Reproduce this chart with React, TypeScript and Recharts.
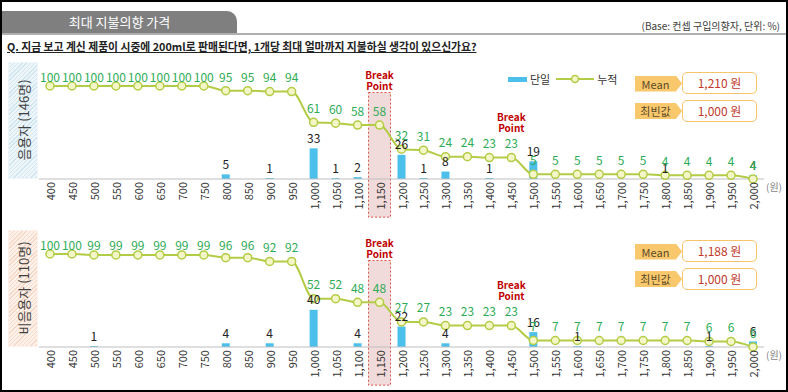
import {
  Bar,
  ComposedChart,
  LabelList,
  Line,
  ReferenceArea,
  XAxis,
  YAxis,
} from "recharts";

const prices = [
  "400", "450", "500", "550", "600", "650", "700", "750", "800", "850",
  "900", "950", "1,000", "1,050", "1,100", "1,150", "1,200", "1,250", "1,300", "1,350",
  "1,400", "1,450", "1,500", "1,550", "1,600", "1,650", "1,700", "1,750", "1,800", "1,850",
  "1,900", "1,950", "2,000",
];

// 음용자 (146명)
const userSingle = [
  null, null, null, null, null, null, null, null, 5, null,
  1, null, 33, 1, 2, null, 26, 1, 8, null,
  1, null, 19, null, null, null, null, null, 1, null,
  null, null, 4,
];
const userCum = [
  100, 100, 100, 100, 100, 100, 100, 100, 95, 95,
  94, 94, 61, 60, 58, 58, 32, 31, 24, 24,
  23, 23, 5, 5, 5, 5, 5, 5, 4, 4,
  4, 4, 4,
];
// the drawn line drops to the axis at the last price
const userCumLine = [
  100, 100, 100, 100, 100, 100, 100, 100, 95, 95,
  94, 94, 61, 60, 58, 58, 32, 31, 24, 24,
  23, 23, 5, 5, 5, 5, 5, 5, 4, 4,
  4, 4, 0,
];

// 비음용자 (110명)
const nonUserSingle = [
  null, null, 1, null, null, null, null, null, 4, null,
  4, null, 40, 0, 4, null, 22, 0, 4, null,
  0, null, 16, null, 1, null, null, null, 0, null,
  1, null, 6,
];
const nonUserCum = [
  100, 100, 99, 99, 99, 99, 99, 99, 96, 96,
  92, 92, 52, 52, 48, 48, 27, 27, 23, 23,
  23, 23, 7, 7, 7, 7, 7, 7, 7, 7,
  6, 6, 6,
];
const nonUserCumLine = [
  100, 100, 99, 99, 99, 99, 99, 99, 96, 96,
  92, 92, 52, 52, 48, 48, 27, 27, 23, 23,
  23, 23, 7, 7, 7, 7, 7, 7, 7, 7,
  6, 6, 0,
];

const breakArea = "1,150";
const breakMark = "1,450";

const BAR = "#4cbfeb";
const LINE = "#b3cc45";
const GREEN = "#2eac55";
const RED = "#c00000";
const FONT = "'Noto Sans CJK KR', 'Noto Sans', sans-serif";

function PriceTick(props: any) {
  const { x, y, payload } = props;
  return (
    <text
      x={x}
      y={y}
      transform={`rotate(-90 ${x} ${y})`}
      textAnchor="end"
      dominantBaseline="central"
      fontSize={11}
      fill="#333"
    >
      {payload.value}
    </text>
  );
}

function CumLabel(props: any) {
  const { x, y, value } = props;
  if (value == null) return null;
  return (
    <text
      x={x}
      y={Math.max(y - 15, 26)}
      textAnchor="middle"
      dominantBaseline="central"
      fontSize={12}
      fill={GREEN}
    >
      {value}
    </text>
  );
}

function SingleLabel(props: any) {
  const { x, y, width, value } = props;
  if (value == null) return null;
  return (
    <text
      x={x + width / 2}
      y={y - 11}
      textAnchor="middle"
      dominantBaseline="central"
      fontSize={12}
      fill="#222"
    >
      {value}
    </text>
  );
}

function BreakText({ x, y }: { x: number; y: number }) {
  return (
    <g fontSize={10} fontWeight="bold" fill={RED} textAnchor="middle">
      <text x={x} y={y} dominantBaseline="central">Break</text>
      <text x={x} y={y + 11} dominantBaseline="central">Point</text>
    </g>
  );
}

function BreakMark(props: any) {
  const { x, y, value } = props;
  if (!value) return null;
  return <BreakText x={x} y={y - 41} />;
}

function StatBox({ top, name, value }: { top: number; name: string; value: string }) {
  return (
    <>
      <div
        style={{
          position: "absolute",
          left: 635,
          top: top + 3.5,
          width: 47,
          height: 16,
          background: "#f9c86c",
          clipPath: "polygon(0 0, 87% 0, 100% 50%, 87% 100%, 0 100%)",
          fontSize: 11,
          lineHeight: "16px",
          color: "#5a4a28",
          textAlign: "center",
          paddingRight: 6,
          boxSizing: "border-box",
        }}
      >
        {name}
      </div>
      <div
        style={{
          position: "absolute",
          left: 682,
          top,
          width: 75,
          height: 22,
          boxSizing: "border-box",
          border: "1.5px solid #f8c46a",
          borderRadius: 5,
          background: "#fff",
          textAlign: "center",
          lineHeight: "19px",
          fontSize: 12,
          color: "#c0392b",
        }}
      >
        {value}
      </div>
    </>
  );
}

type PanelProps = {
  offset: number;
  title: string;
  single: (number | null)[];
  cum: number[];
  cumLine: number[];
  mean: string;
  mode: string;
  hatchA: string;
  hatchB: string;
  legend?: boolean;
};

function Panel({ offset, title, single, cum, cumLine, mean, mode, hatchA, hatchB, legend }: PanelProps) {
  const data = prices.map((p, i) => ({
    price: p,
    single: single[i],
    line: cumLine[i],
    cumLabel: cum[i],
    brk: p === breakMark ? "Break Point" : null,
  }));

  return (
    <>
      <div
        style={{
          position: "absolute",
          left: 8,
          top: 62 + offset,
          width: 30,
          height: 117,
          boxSizing: "border-box",
          border: `1px solid ${hatchB}`,
          background: `repeating-linear-gradient(135deg, ${hatchA} 0px, ${hatchA} 1px, ${hatchB} 1px, ${hatchB} 3px)`,
        }}
      >
        <svg width={28} height={115} style={{ display: "block" }}>
          <text
            x={14}
            y={57}
            transform="rotate(-90 14 57)"
            textAnchor="middle"
            dominantBaseline="central"
            fontSize={13}
            fill="#404040"
          >
            {title}
          </text>
        </svg>
      </div>

      <div style={{ position: "absolute", left: 0, top: 50 + offset }}>
        <ComposedChart
          width={788}
          height={168}
          data={data}
          margin={{ top: 36, right: 24, bottom: 0, left: 39 }}
        >
          <XAxis
            dataKey="price"
            interval={0}
            tick={<PriceTick />}
            tickLine={false}
            tickSize={0}
            tickMargin={3}
            height={39}
            axisLine={{ stroke: "#bfbfbf" }}
          />
          <YAxis hide domain={[0, 100]} />
          <ReferenceArea
            x1={breakArea}
            x2={breakArea}
            y1={-41}
            y2={93}
            ifOverflow="visible"
            fill="#e6bcbc"
            fillOpacity={0.55}
            stroke="#d9534f"
            strokeDasharray="2 2"
            strokeWidth={1}
            label={(p: any) => {
              const vb = p.viewBox;
              return <BreakText x={vb.x + vb.width / 2} y={vb.y - 18} />;
            }}
          />
          <Bar dataKey="single" fill={BAR} barSize={8} isAnimationActive={false}>
            <LabelList dataKey="single" content={<SingleLabel />} />
          </Bar>
          <Line
            dataKey="line"
            type="monotone"
            stroke={LINE}
            strokeWidth={2}
            dot={{ r: 4, fill: "#f4f6c8", stroke: LINE, strokeWidth: 1.5 }}
            isAnimationActive={false}
          >
            <LabelList dataKey="cumLabel" content={<CumLabel />} />
            <LabelList dataKey="brk" content={<BreakMark />} />
          </Line>
        </ComposedChart>
      </div>

      <div
        style={{
          position: "absolute",
          left: 766,
          top: 179 + offset,
          fontSize: 10,
          color: "#7f7f7f",
        }}
      >
        (원)
      </div>

      {legend && (
        <div
          style={{
            position: "absolute",
            left: 508,
            top: 71 + offset,
            display: "flex",
            alignItems: "center",
            fontSize: 11,
            color: "#333",
          }}
        >
          <span style={{ width: 19, height: 5, background: BAR, marginRight: 3 }} />
          <span style={{ marginRight: 6 }}>단일</span>
          <svg width={38} height={10} style={{ marginRight: 3 }}>
            <line x1={0} y1={5} x2={38} y2={5} stroke={LINE} strokeWidth={2} />
            <circle cx={19} cy={5} r={3.5} fill="#f4f6c8" stroke={LINE} strokeWidth={1.5} />
          </svg>
          <span>누적</span>
        </div>
      )}

      <StatBox top={72 + offset} name="Mean" value={mean} />
      <StatBox top={99.5 + offset} name="최빈값" value={mode} />
    </>
  );
}

export default function App() {
  return (
    <div
      style={{
        position: "absolute",
        left: 0,
        top: 0,
        width: 788,
        height: 392,
        background: "#fff",
        fontFamily: FONT,
        overflow: "hidden",
      }}
    >
      <div
        style={{
          position: "absolute",
          left: 2,
          top: 11,
          width: 235,
          height: 22,
          background: "#7f7f7f",
          borderTopRightRadius: 10,
          color: "#fff",
          fontSize: 13,
          lineHeight: "22px",
          textAlign: "center",
        }}
      >
        최대 지불의향 가격
      </div>
      <div
        style={{
          position: "absolute",
          left: 0,
          top: 33,
          width: 788,
          height: 2,
          background: "#b0b0b0",
        }}
      />
      <div
        style={{
          position: "absolute",
          right: 8,
          top: 18,
          fontSize: 10,
          color: "#404040",
        }}
      >
        (Base: 컨셉 구입의향자, 단위: %)
      </div>
      <div
        style={{
          position: "absolute",
          left: 7,
          top: 38,
          fontSize: 10.8,
          fontWeight: "bold",
          color: "#222",
          textDecoration: "underline",
          whiteSpace: "nowrap",
        }}
      >
        Q. 지금 보고 계신 제품이 시중에 200ml로 판매된다면, 1개당 최대 얼마까지 지불하실 생각이 있으신가요?
      </div>

      <Panel
        offset={0}
        title="음용자 (146명)"
        single={userSingle}
        cum={userCum}
        cumLine={userCumLine}
        mean="1,210 원"
        mode="1,000 원"
        hatchA="#cfe5f0"
        hatchB="#eef6fa"
        legend
      />
      <Panel
        offset={168}
        title="비음용자 (110명)"
        single={nonUserSingle}
        cum={nonUserCum}
        cumLine={nonUserCumLine}
        mean="1,188 원"
        mode="1,000 원"
        hatchA="#f5d8c6"
        hatchB="#fdf1e9"
      />

      <div
        style={{
          position: "absolute",
          inset: 0,
          border: "2px solid #000",
          pointerEvents: "none",
        }}
      />
    </div>
  );
}
